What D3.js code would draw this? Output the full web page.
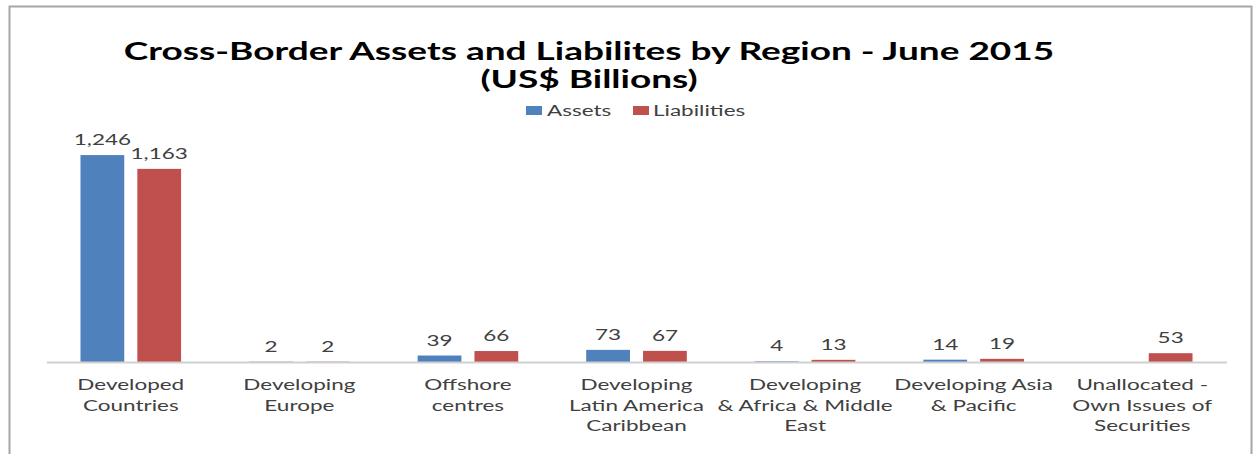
<!DOCTYPE html>
<html>
<head>
<meta charset="utf-8">
<script src="https://cdn.jsdelivr.net/npm/d3@7"></script>
<style>
  html, body { margin: 0; padding: 0; background: #fff; }
  svg { display: block; }
  text { font-family: Lato, "Open Sans", sans-serif; }
</style>
</head>
<body>
<svg id="chart" width="1255" height="454"></svg>
<script>
// Cross-border positions by region, June 2015 (US$ billions)
const categories = [
  "Developed Countries",
  "Developing Europe",
  "Offshore centres",
  "Developing Latin America Caribbean",
  "Developing & Africa & Middle East",
  "Developing Asia & Pacific",
  "Unallocated - Own Issues of Securities"
];
const categoryLines = [
  ["Developed", "Countries"],
  ["Developing", "Europe"],
  ["Offshore", "centres"],
  ["Developing", "Latin America", "Caribbean"],
  ["Developing", "& Africa & Middle", "East"],
  ["Developing Asia", "& Pacific"],
  ["Unallocated -", "Own Issues of", "Securities"]
];
const seriesNames = ["Assets", "Liabilities"];
const assets      = [1246, 2, 39, 73, 4, 14, null];
const liabilities = [1163, 2, 66, 67, 13, 19, 53];
const titleLines = ["Cross-Border Assets and Liabilites by Region - June 2015", "(US$ Billions)"];

const colors = { Assets: "#4F81BD", Liabilities: "#C0504D" };
const textStretch = 1.5;    // wide lettering used throughout the chart
const titleStretch = 1.48;

const svg = d3.select("#chart");

// chart frame
svg.append("rect")
  .attr("x", 9.5).attr("y", 6.5)
  .attr("width", 1242).attr("height", 480)
  .attr("fill", "none")
  .attr("stroke", "#a6a6a6")
  .attr("stroke-width", 2);

const x0 = d3.scaleBand().domain(categories).range([46.5, 1226.5]).paddingInner(0).paddingOuter(0);
const x1 = d3.scaleBand().domain(seriesNames)
  .range([x0.bandwidth() / 2 - 50.3, x0.bandwidth() / 2 + 50.3])
  .paddingInner(0.23).paddingOuter(0);
const y = d3.scaleLinear().domain([0, 1400]).range([362, 129.5]);

function stretched(sel, sx) {
  return sel.attr("transform", function () {
    const t = d3.select(this);
    return `translate(${t.attr("data-x")},${t.attr("data-y")}) scale(${sx},1)`;
  });
}

// title
svg.append("g").selectAll("text")
  .data(titleLines)
  .join("text")
  .attr("data-x", 589)
  .attr("data-y", (d, i) => 59.5 + i * 28)
  .attr("text-anchor", "middle")
  .attr("font-size", 25)
  .attr("font-weight", "bold")
  .attr("fill", "#000")
  .text(d => d)
  .call(stretched, titleStretch);

// legend
const legendItems = [
  { name: "Assets", kx: 526, tx: 547 },
  { name: "Liabilities", kx: 633, tx: 653 }
];
const legend = svg.append("g");
legend.selectAll("rect")
  .data(legendItems)
  .join("rect")
  .attr("x", d => d.kx).attr("y", 106)
  .attr("width", 16).attr("height", 9)
  .attr("fill", d => colors[d.name]);
legend.selectAll("text")
  .data(legendItems)
  .join("text")
  .attr("data-x", d => d.tx).attr("data-y", 116)
  .attr("font-size", 15)
  .attr("fill", "#404040")
  .text(d => d.name)
  .call(stretched, textStretch);

// bars
const rows = categories.map((c, i) => ({
  category: c,
  values: [
    { series: "Assets", value: assets[i] },
    { series: "Liabilities", value: liabilities[i] }
  ].filter(v => v.value != null)
}));

const groups = svg.append("g").selectAll("g")
  .data(rows)
  .join("g")
  .attr("transform", d => `translate(${x0(d.category)},0)`);

groups.selectAll("rect")
  .data(d => d.values)
  .join("rect")
  .attr("x", d => x1(d.series))
  .attr("y", d => y(d.value))
  .attr("width", x1.bandwidth())
  .attr("height", d => y(0) - y(d.value))
  .attr("fill", d => colors[d.series]);

// value labels
groups.selectAll("text")
  .data(d => d.values)
  .join("text")
  .attr("data-x", d => x1(d.series) + x1.bandwidth() / 2)
  .attr("data-y", d => y(d.value) - 10)
  .attr("text-anchor", "middle")
  .attr("font-size", 15)
  .attr("fill", "#404040")
  .text(d => d3.format(",")(d.value))
  .call(stretched, textStretch);

// category axis
const axis = svg.append("g")
  .attr("transform", `translate(0,${y(0)})`)
  .call(d3.axisBottom(x0).tickSize(0).tickFormat(""));
axis.select(".domain").attr("stroke", "#d0d0d0").attr("stroke-width", 2);

const catLabels = svg.append("g").selectAll("g")
  .data(categories)
  .join("g");
catLabels.selectAll("text")
  .data((d, i) => categoryLines[i].map(line => ({ line, c: d })))
  .join("text")
  .attr("data-x", d => x0(d.c) + x0.bandwidth() / 2)
  .attr("data-y", (d, i) => 390 + i * 20.5)
  .attr("text-anchor", "middle")
  .attr("font-size", 15)
  .attr("fill", "#404040")
  .text(d => d.line)
  .call(stretched, textStretch);
</script>
</body>
</html>
